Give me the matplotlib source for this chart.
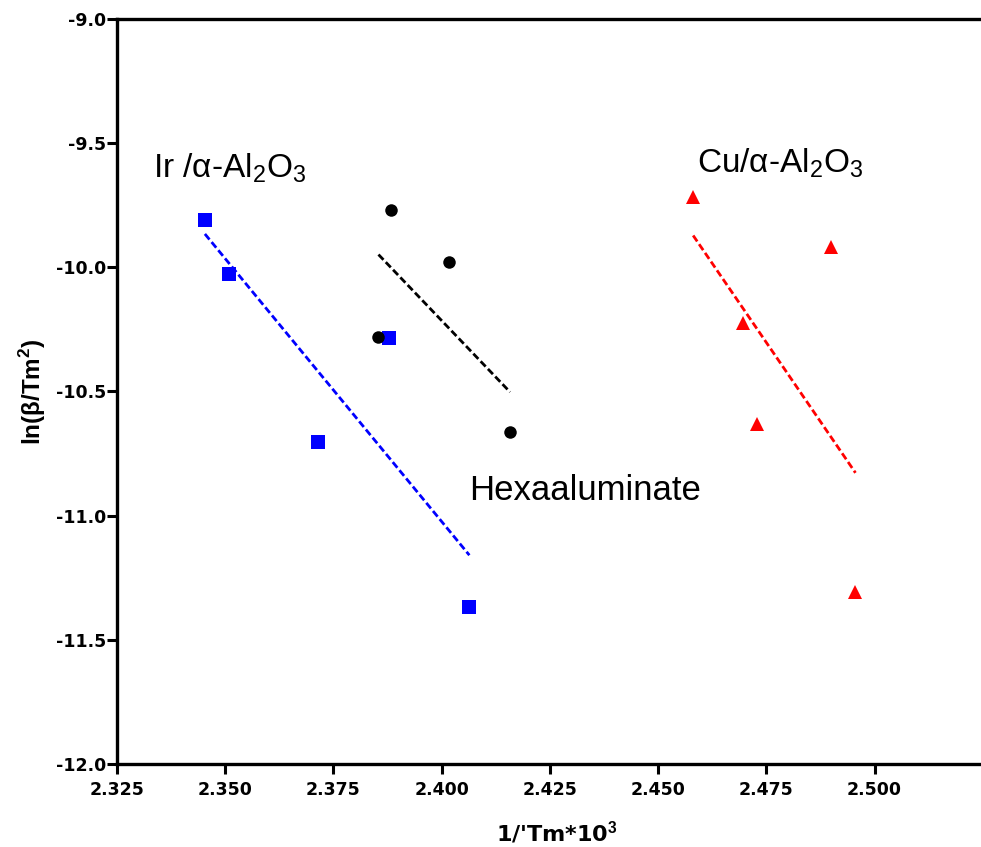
import numpy as np
import matplotlib
matplotlib.use("Agg")
import matplotlib.pyplot as plt
from matplotlib.ticker import FormatStrFormatter

plt.rcParams["font.family"] = ["Liberation Sans", "DejaVu Sans"]
plt.rcParams["mathtext.fontset"] = "custom"
plt.rcParams["mathtext.rm"] = "Liberation Sans"
plt.rcParams["mathtext.bf"] = "Liberation Sans:bold"
plt.rcParams["axes.unicode_minus"] = False

# 1/Tm*10^3 and ln(beta/Tm^2) for each catalyst
ir_x = [2.3453, 2.3509, 2.3879, 2.3715, 2.4064]
ir_y = [-9.81, -10.027, -10.286, -10.705, -11.369]

hexa_x = [2.3883, 2.4016, 2.3854, 2.4158]
hexa_y = [-9.769, -9.980, -10.282, -10.665]

cu_x = [2.4581, 2.4899, 2.4697, 2.4729, 2.4956]
cu_y = [-9.718, -9.920, -10.223, -10.631, -11.306]

x_ticks = [2.325, 2.350, 2.375, 2.400, 2.425, 2.450, 2.475, 2.500]
y_ticks = [-12.0, -11.5, -11.0, -10.5, -10.0, -9.5, -9.0]

fig = plt.figure(figsize=(9.81, 8.47), dpi=100)
ax = fig.add_axes([0.1193, 0.098, 0.8807, 0.8796])


def series(x, y, color, marker, ms):
    x = np.asarray(x)
    y = np.asarray(y)
    ax.plot(x, y, linestyle="none", marker=marker, color=color,
            markersize=ms, markeredgewidth=0, zorder=3)
    # least-squares fit drawn across the data range
    k, b = np.polyfit(x, y, 1)
    xs = np.array([x.min(), x.max()])
    ax.plot(xs, k * xs + b, color=color, linestyle=(0, (2.6, 1.2)),
            linewidth=2.0, zorder=2)


series(ir_x, ir_y, "#0000ff", "s", 10.5)
series(hexa_x, hexa_y, "black", "o", 9)
series(cu_x, cu_y, "#ff0000", "^", 10)

ax.text(2.3333, -9.60, "Ir /α-Al$_2$O$_3$", fontsize=24, va="center", ha="left")
ax.text(2.4590, -9.58, "Cu/α-Al$_2$O$_3$", fontsize=24, va="center", ha="left")
ax.text(2.4063, -10.897, "Hexaaluminate", fontsize=25, va="center", ha="left")

ax.set_xlim(2.325, 2.5246)
ax.set_ylim(-12.0, -9.0)
ax.set_xticks(x_ticks)
ax.set_yticks(y_ticks)
ax.xaxis.set_major_formatter(FormatStrFormatter("%.3f"))
ax.yaxis.set_major_formatter(FormatStrFormatter("%.1f"))

for side in ("left", "bottom", "top"):
    ax.spines[side].set_linewidth(2.4)
ax.spines["right"].set_visible(False)

ax.tick_params(axis="both", direction="out", length=7, width=2.2,
               labelsize=12.5)
ax.tick_params(axis="x", pad=5)
ax.tick_params(axis="y", pad=1)
for lab in ax.get_xticklabels() + ax.get_yticklabels():
    lab.set_fontweight("bold")
    lab.set_family("DejaVu Sans")

ax.set_xlabel(r"1/'Tm*10$^{\mathbf{3}}$", fontsize=16, fontweight="bold",
              family=["DejaVu Sans"])
ax.xaxis.set_label_coords(0.509, -0.0926)
ax.xaxis.label.set_va("center")

ax.set_ylabel(r"ln(β/Tm$^{\mathbf{2}}$)", fontsize=17.5, fontweight="bold")
ax.yaxis.set_label_coords(-0.098, 0.5)
ax.yaxis.label.set_va("center")

fig.savefig("out.png", dpi=100)
